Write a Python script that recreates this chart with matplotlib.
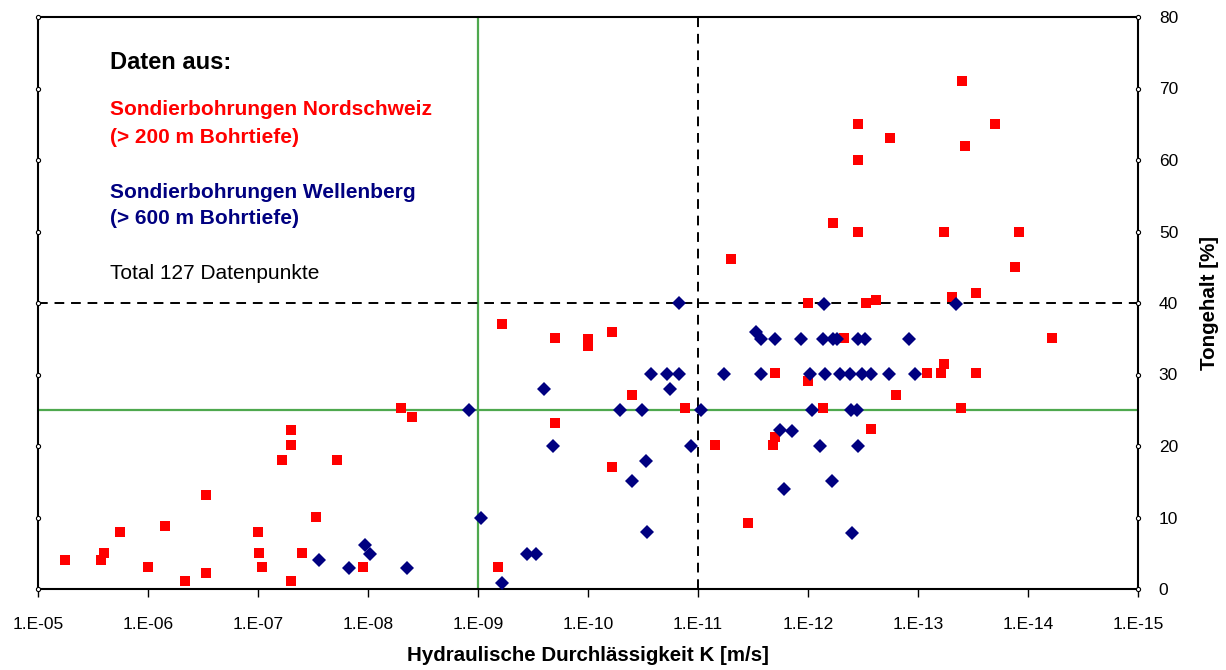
import matplotlib
matplotlib.use("Agg")
import matplotlib.pyplot as plt
from matplotlib.ticker import FixedLocator, FixedFormatter, NullLocator
import matplotlib.transforms as mtransforms

plt.rcParams["font.family"] = ["Liberation Sans", "DejaVu Sans"]

# Sondierbohrungen Nordschweiz (> 200 m Bohrtiefe)
k_nordschweiz = [
    5.7e-6, 2.7e-6, 2.5e-6, 1.8e-6, 9.9e-7, 7.0e-7, 4.6e-7, 3.0e-7, 3.0e-7,
    9.9e-8, 9.7e-8, 9.2e-8, 6.0e-8, 5.0e-8, 5.0e-8, 5.0e-8, 4.0e-8, 3.0e-8,
    1.9e-8, 1.1e-8, 5.0e-9, 4.0e-9, 6.0e-10, 2.0e-10, 1.0e-10, 1.0e-10,
    6.0e-11, 4.0e-11, 1.3e-11, 2.0e-10, 6.0e-11, 7.0e-12, 6.6e-10, 2.0e-12,
    2.0e-12, 2.1e-12, 3.5e-12, 4.7e-13, 6.0e-15, 1.0e-12, 8.3e-14, 6.2e-14,
    5.8e-14, 3.0e-14, 1.6e-13, 7.3e-13, 4.1e-14, 2.7e-13, 4.0e-14, 3.5e-13,
    2.0e-14, 1.8e-13, 3.7e-14, 3.5e-13, 5.0e-12, 5.9e-13, 3.5e-13, 5.8e-14,
    1.2e-14, 1.3e-14, 3.0e-14, 4.9e-14, 1.0e-12, 3.0e-13, 2.4e-13,
]
ton_nordschweiz = [
    4.0, 4.0, 5.1, 8.0, 3.1, 8.8, 1.1, 13.1, 2.2,
    8.0, 5.1, 3.1, 18.1, 22.2, 20.1, 1.1, 5.1, 10.1,
    18.1, 3.1, 25.3, 24.1, 37.0, 35.1, 35.0, 34.0,
    36.0, 27.1, 25.3, 23.2, 17.1, 20.1, 3.1, 30.2,
    21.2, 20.1, 9.2, 35.1, 35.1, 29.1, 30.2, 30.2,
    31.4, 30.2, 27.1, 25.3, 25.3, 22.4, 71.0, 65.0,
    65.0, 63.1, 61.9, 60.0, 46.2, 51.2, 50.0, 50.0,
    50.0, 45.1, 41.4, 40.8, 40.0, 40.0, 40.4,
]

# Sondierbohrungen Wellenberg (> 600 m Bohrtiefe)
k_wellenberg = [
    2.8e-8, 1.5e-8, 1.06e-8, 9.6e-9, 4.4e-9, 1.2e-9, 9.4e-10, 1.5e-11,
    2.5e-10, 2.7e-11, 1.9e-11, 1.5e-11, 1.8e-11, 5.8e-12, 2.7e-12, 3.0e-12,
    2.7e-12, 2.0e-12, 1.16e-12, 5.1e-11, 3.2e-11, 9.4e-12, 2.1e-10, 1.16e-11,
    3.0e-11, 4.0e-11, 1.8e-12, 1.4e-12, 1.65e-12, 2.9e-11, 3.6e-10, 2.95e-10,
    6.1e-10, 7.3e-13, 5.9e-13, 5.5e-13, 3.5e-13, 3.05e-13, 1.2e-13, 9.6e-13,
    7.0e-13, 5.1e-13, 4.15e-13, 3.2e-13, 2.7e-13, 1.84e-13, 1.06e-13, 9.2e-13,
    4.1e-13, 3.56e-13, 7.8e-13, 3.5e-13, 6.1e-13, 3.95e-13, 7.1e-13, 4.5e-14,
]
ton_wellenberg = [
    4.0, 3.0, 6.1, 4.9, 3.0, 25.1, 10.0, 40.0,
    28.0, 30.1, 30.1, 30.1, 28.0, 30.1, 30.1, 36.0,
    34.9, 34.9, 34.9, 25.1, 25.1, 25.1, 20.0, 20.0,
    17.9, 15.1, 22.2, 22.1, 14.0, 8.0, 4.9, 4.9,
    0.9, 34.9, 34.9, 34.9, 34.9, 34.9, 34.9, 30.1,
    30.1, 30.1, 30.1, 30.1, 30.1, 30.1, 30.1, 25.1,
    25.1, 25.1, 20.0, 20.0, 15.1, 7.9, 39.9, 39.9,
]

x_ticks = [1e-5, 1e-6, 1e-7, 1e-8, 1e-9, 1e-10, 1e-11, 1e-12, 1e-13, 1e-14, 1e-15]
x_labels = ["1.E-05", "1.E-06", "1.E-07", "1.E-08", "1.E-09", "1.E-10",
            "1.E-11", "1.E-12", "1.E-13", "1.E-14", "1.E-15"]
y_ticks = [0, 10, 20, 30, 40, 50, 60, 70, 80]

# Grenzwerte
k_gruen, ton_gruen = 1e-9, 25
k_grenze, ton_grenze = 1e-11, 40

ROT = "#FF0000"
BLAU = "#000080"
GRUEN = "#4EA84E"

fig = plt.figure(figsize=(12.26, 6.70), dpi=100)
ax = fig.add_axes([38 / 1226, 1 - 589 / 670, 1100 / 1226, 572 / 670])

ax.set_xscale("log")
ax.set_xlim(1e-5, 1e-15)
ax.set_ylim(0, 80)

# Hilfslinien
ax.axvline(k_gruen, color=GRUEN, lw=1.6, zorder=1)
ax.axhline(ton_gruen, color=GRUEN, lw=1.6, zorder=1)
ax.axvline(k_grenze, color="black", lw=1.4, linestyle=(0, (5, 3.5)), zorder=1)
ax.axhline(ton_grenze, color="black", lw=1.4, linestyle=(0, (5, 3.5)), zorder=1)

# Datenpunkte
ax.plot(k_nordschweiz, ton_nordschweiz, linestyle="none", marker="s",
        markersize=6.8, color=ROT, markeredgewidth=0, zorder=3)
ax.plot(k_wellenberg, ton_wellenberg, linestyle="none", marker="D",
        markersize=7.3, color=BLAU, markeredgewidth=0, zorder=3)

# Achsen
for s in ax.spines.values():
    s.set_linewidth(1.5)
    s.set_color("black")

ax.xaxis.set_major_locator(FixedLocator(x_ticks))
ax.xaxis.set_major_formatter(FixedFormatter(x_labels))
ax.xaxis.set_minor_locator(NullLocator())
ax.tick_params(axis="x", direction="out", length=6, width=1, pad=14, labelsize=12.5)

ax.yaxis.tick_right()
ax.yaxis.set_label_position("right")
ax.set_yticks(y_ticks)
ax.tick_params(axis="y", direction="out", length=0, pad=15, labelsize=12.5)

# kleine Kreise an den Achsen (Excel-Stil)
trans_l = mtransforms.blended_transform_factory(ax.transAxes, ax.transData)
ax.plot([0] * len(y_ticks), y_ticks, linestyle="none", marker="o", markersize=3,
        mfc="white", mec="black", mew=0.8, transform=trans_l, clip_on=False, zorder=5)
ax.plot([1] * len(y_ticks), y_ticks, linestyle="none", marker="o", markersize=3,
        mfc="white", mec="black", mew=0.8, transform=trans_l, clip_on=False, zorder=5)

ax.set_xlabel("Hydraulische Durchlässigkeit K [m/s]", fontsize=14.8, fontweight="bold", labelpad=10)
ax.set_ylabel("Tongehalt [%]", fontsize=14.8, fontweight="bold", labelpad=16)

# Beschriftung
tx = 0.0655
ax.text(tx, 0.921, "Daten aus:", transform=ax.transAxes, fontsize=17,
        fontweight="bold", va="center", ha="left")
ax.text(tx, 0.839, "Sondierbohrungen Nordschweiz", transform=ax.transAxes,
        fontsize=15, fontweight="bold", color=ROT, va="center", ha="left")
ax.text(tx, 0.790, "(> 200 m Bohrtiefe)", transform=ax.transAxes,
        fontsize=15, fontweight="bold", color=ROT, va="center", ha="left")
ax.text(tx, 0.694, "Sondierbohrungen Wellenberg", transform=ax.transAxes,
        fontsize=15, fontweight="bold", color=BLAU, va="center", ha="left")
ax.text(tx, 0.647, "(> 600 m Bohrtiefe)", transform=ax.transAxes,
        fontsize=15, fontweight="bold", color=BLAU, va="center", ha="left")
ax.text(tx, 0.551, "Total 127 Datenpunkte", transform=ax.transAxes,
        fontsize=15, va="center", ha="left")

fig.savefig("out.png", dpi=100)
plt.close(fig)
